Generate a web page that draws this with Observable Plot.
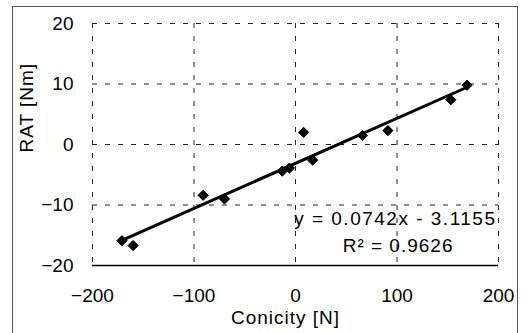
<!DOCTYPE html>
<html><head><meta charset="utf-8">
<script src="https://cdn.jsdelivr.net/npm/d3@7"></script>
<script src="https://cdn.jsdelivr.net/npm/@observablehq/plot@0.6"></script>
<style>
body{margin:0;background:#fff}
#wrap{position:relative;width:529px;height:333px;overflow:hidden;background:#fff}
#border{position:absolute;left:12px;top:6px;width:506px;height:345px;border:1px solid #555;box-sizing:border-box;pointer-events:none}
#wrap svg{position:absolute;left:0;top:0}
</style>
</head><body>
<div id="wrap"><div id="border"></div></div>
<script>
const conicity = [-171, -160, -91, -70, -13, -6, 8, 17, 66, 91, 153, 169];
const rat = [-15.9, -16.7, -8.4, -9.0, -4.4, -3.9, 2.0, -2.6, 1.5, 2.3, 7.4, 9.8];
const xTicks = [-200, -100, 0, 100, 200];
const yTicks = [-20, -10, 0, 10, 20];
const xGrid = [-200, -100, 0, 100, 200];
const yGrid = [-10, 0, 10, 20];
const xLabel = "Conicity [N]";
const yLabel = "RAT [Nm]";
const eqLine = "y = 0.0742x - 3.1155";
const r2Line = "R² = 0.9626";

const data = conicity.map((c, i) => ({x: c, y: rat[i]}));
const fmt = d => d < 0 ? "\u2212" + Math.abs(d) : String(d);

const chart = Plot.plot({
  width: 529, height: 333,
  marginLeft: 92, marginRight: 31, marginTop: 23, marginBottom: 68,
  style: {fontFamily: "'Liberation Sans', Arial, sans-serif", fontSize: "19px", background: "transparent", color: "#000"},
  x: {domain: [-200, 200]},
  y: {domain: [-20, 20]},
  marks: [
    Plot.ruleX(xGrid, {stroke: "#222", strokeWidth: 1, strokeDasharray: "5,8"}),
    Plot.ruleY(yGrid, {stroke: "#222", strokeWidth: 1, strokeDasharray: "5,8"}),
    Plot.ruleY([-20], {stroke: "#000", strokeWidth: 1.5}),
    Plot.axisX({ticks: xTicks, tickSize: 0, tickPadding: 23, tickFormat: fmt, label: null}),
    Plot.axisY({ticks: yTicks, tickSize: 0, tickPadding: 19, tickFormat: fmt, label: null}),
    Plot.linearRegressionY(data, {x: "x", y: "y", stroke: "#000", strokeWidth: 3, ci: 0}),
    Plot.dot(data, {x: "x", y: "y", symbol: "diamond2", r: 4.6, fill: "#000", stroke: "#000", strokeWidth: 1}),
    Plot.text([eqLine], {frameAnchor: "right", textAnchor: "end", dx: -2, dy: 74, fill: "#000"}),
    Plot.text([r2Line], {frameAnchor: "right", textAnchor: "end", dx: -45, dy: 101, fill: "#000"}),
    Plot.text([xLabel], {frameAnchor: "bottom", dx: -10, dy: 58, fill: "#000"}),
    Plot.text([yLabel], {frameAnchor: "left", rotate: -90, dx: -66, dy: 8, fill: "#000"})
  ]
});
d3.select(chart).selectAll("g[aria-label=text] text").attr("letter-spacing", 1);
d3.select(chart).selectAll("g[aria-label=text] text").filter(function() { return this.textContent === eqLine; }).attr("letter-spacing", 1.5);
document.getElementById("wrap").appendChild(chart);
</script>
</body></html>
